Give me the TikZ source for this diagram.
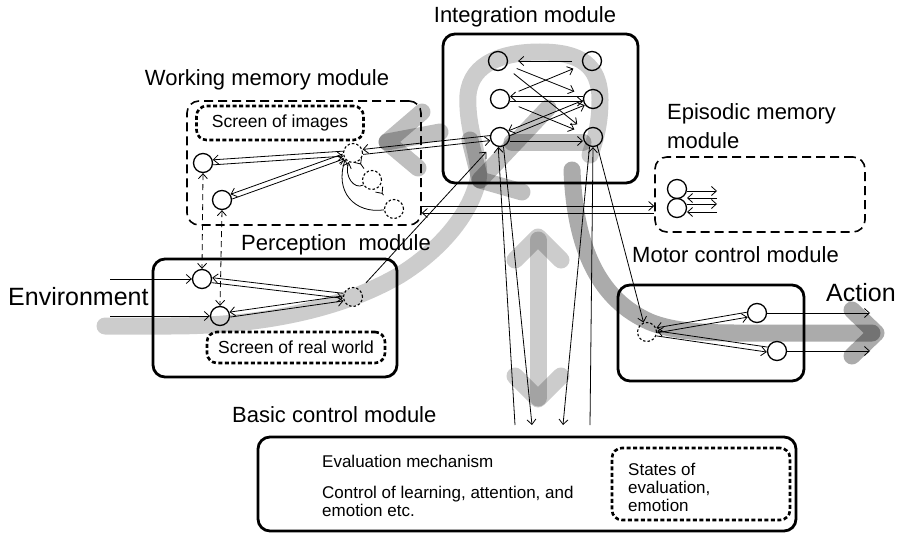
\documentclass[tikz,border=0pt]{standalone}
\usepackage{fontspec}
\setmainfont{Liberation Sans}
\usetikzlibrary{arrows.meta,calc}
% two opposite arrows between units, drawn side by side
\newcommand\arrpair[3][2.5pt]{%
  \draw[arr,shorten <=10pt,shorten >=10pt] ($(#2)!#1!-90:(#3)$) -- ($(#3)!#1!90:(#2)$);
  \draw[arr,shorten <=10pt,shorten >=10pt] ($(#3)!#1!-90:(#2)$) -- ($(#2)!#1!90:(#3)$);}
\begin{document}
\begin{tikzpicture}[x=1pt,y=-1pt,
  modbox/.style={draw,line width=2.8pt,rounded corners=12pt,inner sep=0pt},
  dashbox/.style={draw,line width=1.6pt,rounded corners=12pt,dash pattern=on 9pt off 5pt,inner sep=0pt},
  scrbox/.style={draw,line width=2.6pt,rounded corners=10pt,dash pattern=on 4pt off 2.5pt,inner sep=0pt},
  unit/.style={circle,draw,line width=1.3pt,minimum size=19pt,inner sep=0pt},
  dunit/.style={unit,line width=1.1pt,dash pattern=on 2.5pt off 2pt},
  ln/.style={line width=0.8pt},
  arr/.style={ln,-{Straight Barb[length=5pt,width=9pt]}},
  linkdash/.style={ln,dash pattern=on 6pt off 4pt,{Straight Barb[length=5pt,width=9pt]}-{Straight Barb[length=5pt,width=9pt]}},
  title/.style={font=\fontsize{22}{29}\selectfont,inner sep=0pt},
  big/.style={font=\fontsize{25}{30}\selectfont,inner sep=0pt},
  body/.style={font=\fontsize{17}{18}\selectfont,inner sep=0pt,align=left},
  flowlight/.style={line width=17pt,line cap=round,line join=round,draw=black,opacity=0.2},
  flowdark/.style={line width=17pt,line cap=round,line join=round,draw=black,opacity=0.33},
  flowmid/.style={line width=17pt,line cap=round,line join=round,draw=black,opacity=0.25},
]
\useasboundingbox (0,0) rectangle (902,535);

% ---- gray flow of processing ----
\draw[flowlight] (105,326) -- (170,326)
  .. controls (260,326) and (340,310) .. (400,275)
  .. controls (440,250) and (470,215) .. (478,180)
  .. controls (482,160) and (466,130) .. (468,95)
  .. controls (471,62) and (505,52) .. (540,52)
  .. controls (580,52) and (600,65) .. (600,100)
  .. controls (600,125) and (595,140) .. (590,155);
\draw[flowdark] (572,170) .. controls (575,250) and (600,300) .. (650,322)
  .. controls (680,334) and (720,333) .. (760,333) -- (872,333);
\draw[flowdark] (852,310) -- (876,333) -- (852,356);
% towards working memory
\draw[flowmid] (440,132) -- (387,142);
\draw[flowmid] (422,112) -- (387,142) -- (418,168);
% towards perception
\draw[flowmid] (548,108) -- (480,180);
\draw[flowmid] (470,140) -- (480,180) -- (522,192);
\draw[flowmid] (512,142) -- (583,142);
% exchange with basic control
\draw[flowlight] (538,240) -- (538,398);
\draw[flowlight] (515,260) -- (538,237) -- (561,260);
\draw[flowlight] (515,376) -- (538,399) -- (561,376);

% ---- modules ----
\node[dashbox,minimum width=234pt,minimum height=124pt] (wm) at (304,163) {};
\node[scrbox,minimum width=167pt,minimum height=34pt,font=\fontsize{17.5}{18}\selectfont] (scrimg) at (280,123) {Screen of images};
\node[modbox,minimum width=195pt,minimum height=149pt] (int) at (540.5,108.5) {};
\node[dashbox,minimum width=210pt,minimum height=75pt] (epi) at (760,194.5) {};
\node[modbox,minimum width=244pt,minimum height=118pt] (per) at (275,318) {};
\node[scrbox,minimum width=178pt,minimum height=31pt,font=\fontsize{17.5}{18}\selectfont] (scrreal) at (296,347.5) {Screen of real world};
\node[modbox,minimum width=186pt,minimum height=96pt] (mot) at (711,333) {};
\node[modbox,minimum width=538pt,minimum height=94pt] (bas) at (527,484) {};
\node[scrbox,minimum width=178pt,minimum height=72pt] (sta) at (701,484) {};

% ---- labels ----
\node[title] (twm) at (267,80) {Working memory module};
\node[title] (tint) at (525,17) {Integration module};
\node[title,anchor=west,align=left] (tepi) at (667,126.5) {Episodic memory\\module};
\node[title] (tper) at (336,245) {Perception~~module};
\node[title,anchor=west] (tmot) at (632,255) {Motor control module};
\node[title,anchor=west] (tbas) at (232,415) {Basic control module};
\node[big,anchor=west] (tenv) at (8,297) {Environment};
\node[big,anchor=west] (tact) at (826,293) {Action};
\node[body,anchor=west] (teval) at (322,461) {Evaluation mechanism};
\node[body,anchor=west] (tctl) at (322,501) {Control of learning, attention, and\\emotion etc.};
\node[body,anchor=west] (tsta) at (628,487) {States of\\evaluation,\\emotion};

% ---- units ----
\node[unit] (A1) at (203,163) {};
\node[unit] (A2) at (222,200) {};
\node[dunit] (D1) at (353,153) {};
\node[dunit] (D2) at (372,180) {};
\node[dunit] (D3) at (394,209) {};
\node[unit] (I1) at (498,61) {};
\node[unit] (I2) at (500,99) {};
\node[unit] (I3) at (500,137) {};
\node[unit] (J1) at (592,61) {};
\node[unit] (J2) at (593,99) {};
\node[unit] (J3) at (593,137) {};
\node[unit] (E1) at (677,189) {};
\node[unit] (E2) at (677,208) {};
\node[unit] (P1) at (202,279) {};
\node[unit] (P2) at (220,316) {};
\node[dunit] (P3) at (353,297) {};
\node[dunit] (M0) at (647,332) {};
\node[unit] (M1) at (757,313) {};
\node[unit] (M2) at (777,351) {};

% free ends
\coordinate (in1) at (110,279);
\coordinate (in2) at (110,316);
\coordinate (b1) at (515,425);
\coordinate (b2) at (532,425);
\coordinate (b3) at (563,425);
\coordinate (b4) at (590,425);
\coordinate (out1) at (870,313);
\coordinate (out2) at (870,351);

% ---- working memory ----
\arrpair{D1}{A1}
\arrpair{D1}{A2}
\draw[arr,shorten <=9pt,shorten >=9pt] (D1) -- (D2);
\draw[arr,shorten <=9pt,shorten >=9pt] (D2) -- (D3);
\draw[arr] (D2.210) .. controls (354,190) and (344,176) .. (D1.245);
\draw[arr] (D3.185) .. controls (355,214) and (334,192) .. (D1.220);
\arrpair{I3}{D1}
\draw[linkdash] (A1.south) -- (P1.north);
\draw[linkdash] (A2.south) -- (P2.north);
\draw[arr] (wm.east |- 0,206) -- (epi.west |- 0,206);
\draw[arr] (epi.west |- 0,213) -- (wm.east |- 0,213);

% ---- perception ----
\draw[arr] (in1) -- (P1.west);
\draw[arr] (in2) -- (P2.west);
\arrpair{P3}{P1}
\arrpair{P3}{P2}
\draw[arr,shorten <=9pt,shorten >=10pt] (P3) -- (I3);

% ---- integration ----
\draw[arr,shorten <=10pt,shorten >=10pt] (J1) -- (I1);
\draw[arr,shorten <=10pt,shorten >=10pt] (I2) -- (J1);
\draw[arr,shorten <=10pt,shorten >=10pt] (I1) -- (J2);
\draw[arr,shorten <=10pt,shorten >=10pt] (I1) -- (J3);
\draw[arr,shorten <=10pt,shorten >=10pt] (I2) -- (J3);
\arrpair{I2}{J2}
\arrpair{I3}{J2}
\draw[arr,shorten <=10pt,shorten >=10pt] ($(I3)+(0,4)$) -- ($(J3)+(0,4)$);
\draw[arr] (b1) -- (I3.-100);
\draw[arr] (I3.-70) -- (b2);
\draw[arr] (J3.-110) -- (b3);
\draw[arr] (b4) -- (J3.-90);
\draw[arr] (J3.-65) -- (M0.110);

% ---- episodic memory ----
\draw[arr] ($(E1)+(10,2)$) -- ++(30,0);
\draw[arr] ($(E1)+(40,9)$) -- ++(-30,0);
\draw[arr] ($(E2)+(10,-4)$) -- ++(30,0);
\draw[arr] ($(E2)+(40,4)$) -- ++(-30,0);

% ---- motor control ----
\arrpair{M0}{M1}
\arrpair{M0}{M2}
\draw[arr] (M1.east) -- (out1);
\draw[arr] (M2.east) -- (out2);
\end{tikzpicture}
\end{document}
